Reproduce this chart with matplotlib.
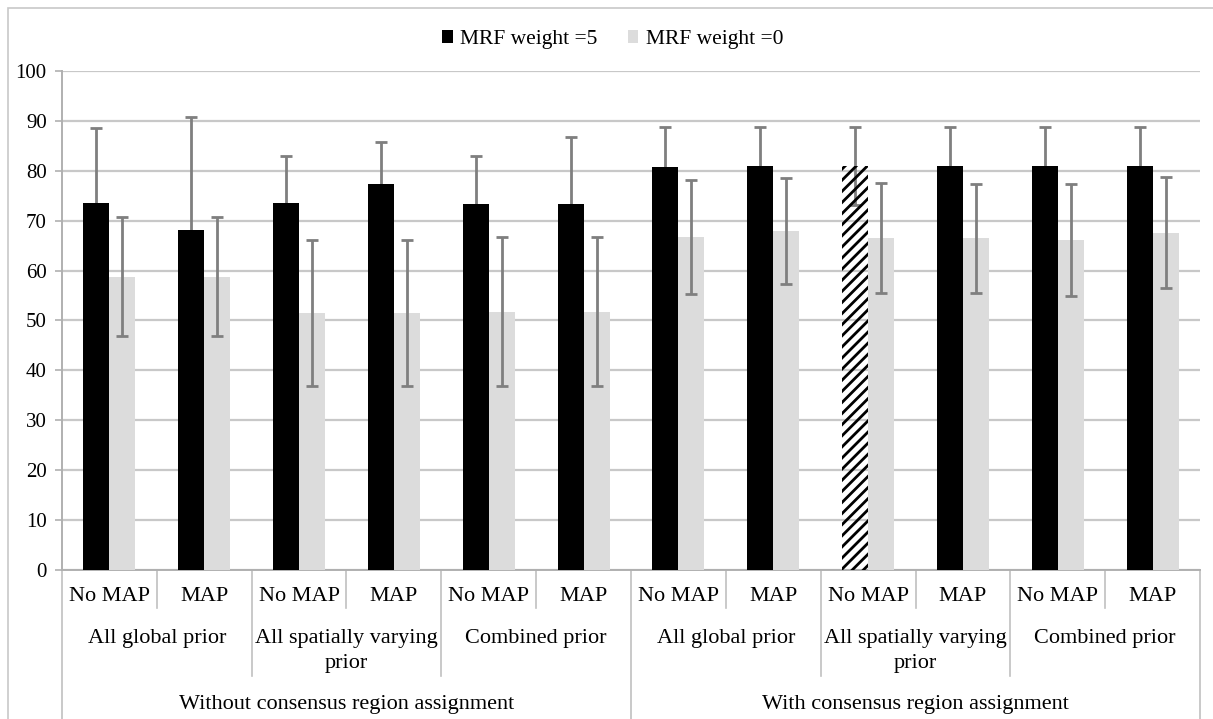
import matplotlib
matplotlib.use('Agg')
import matplotlib.pyplot as plt
from matplotlib.patches import Patch, Rectangle
from matplotlib.transforms import blended_transform_factory
import numpy as np

plt.rcParams['font.family'] = ['Liberation Serif', 'DejaVu Serif']
plt.rcParams['hatch.linewidth'] = 2.0

map_labels = ['No MAP', 'MAP'] * 6
prior_labels = ['All global prior', 'All spatially varying\nprior', 'Combined prior'] * 2
consensus_labels = ['Without consensus region assignment', 'With consensus region assignment']

mrf5 = [73.6, 68.1, 73.6, 77.4, 73.3, 73.3, 80.7, 81.0, 81.0, 81.0, 81.0, 81.0]
mrf5_err = [14.9, 22.6, 9.4, 8.4, 9.7, 13.5, 8.1, 7.8, 7.8, 7.8, 7.8, 7.8]
mrf0 = [58.8, 58.8, 51.5, 51.5, 51.8, 51.8, 66.7, 68.0, 66.5, 66.5, 66.1, 67.6]
mrf0_err = [11.9, 11.9, 14.7, 14.7, 14.9, 14.9, 11.4, 10.6, 11.0, 10.9, 11.2, 11.1]
hatched = 8  # index of the highlighted bar

fig = plt.figure(figsize=(12.13, 7.19), dpi=100)
ax = fig.add_axes([0.0511, 0.2072, 0.9382, 0.6941])

x = np.arange(len(mrf5))
w = 0.274
err_kw = dict(fmt='none', ecolor='#7f7f7f', elinewidth=2, capsize=4, capthick=2)

# black series: error bars sit behind the bars
ax.errorbar(x - w / 2, mrf5, yerr=mrf5_err, zorder=2.5, **err_kw)
bars5 = ax.bar(x - w / 2, mrf5, w, color='black', zorder=3)
bars5[hatched].set_facecolor('none')
bars5[hatched].set_edgecolor('black')
bars5[hatched].set_linewidth(0)
bars5[hatched].set_hatch('///')
ax.bar(x + w / 2, mrf0, w, color='#dcdcdc', zorder=3)
ax.errorbar(x + w / 2, mrf0, yerr=mrf0_err, zorder=4, **err_kw)

ax.set_xlim(-0.5, len(x) - 0.5)
ax.set_ylim(0, 100)
ax.set_yticks(range(0, 101, 10))
ax.tick_params(axis='y', labelsize=15, length=5, color='#b0b0b0', width=1.2, pad=6)
ax.set_xticks([])
ax.grid(axis='y', color='#c8c8c8', linewidth=1.6, zorder=0)
ax.set_axisbelow(True)
for s in ['top', 'right']:
    ax.spines[s].set_visible(False)
ax.spines['left'].set_color('#b0b0b0')
ax.spines['left'].set_linewidth(1.4)
ax.spines['bottom'].set_color('#b0b0b0')
ax.spines['bottom'].set_linewidth(1.4)

# multi-level category axis
tr = blended_transform_factory(ax.transData, ax.transAxes)
for i, lab in enumerate(map_labels):
    ax.text(i, -0.054, lab, transform=tr, ha='center', va='center', fontsize=16)
for j, lab in enumerate(prior_labels):
    ax.text(2 * j + 0.5, -0.119, lab, transform=tr, ha='center', va='top', fontsize=16,
            linespacing=1.42)
for k, lab in enumerate(consensus_labels):
    ax.text(6 * k + 2.5, -0.27, lab, transform=tr, ha='center', va='center', fontsize=16)

line_kw = dict(transform=tr, color='#c0c0c0', linewidth=1.2, clip_on=False)
for b in np.arange(-0.5, len(x), 1.0):
    if b in (-0.5, 5.5, 11.5):
        y_end = -0.31
    elif b in (1.5, 3.5, 7.5, 9.5):
        y_end = -0.212
    else:
        y_end = -0.076
    ax.plot([b, b], [0, y_end], **line_kw)

handles = [Patch(facecolor='black'), Patch(facecolor='#dcdcdc')]
fig.legend(handles, ['MRF weight =5', 'MRF weight =0'], loc='center', bbox_to_anchor=(0.505, 0.945),
           ncol=2, frameon=False, fontsize=15.5, handlelength=0.5, handleheight=0.5,
           handletextpad=0.35, columnspacing=1.4)

# outer chart border
fig.patches.append(Rectangle((8 / 1213, -0.1), 1.2, 1 - 8 / 719 + 0.1, transform=fig.transFigure,
                             fill=False, edgecolor='#c8c8c8', linewidth=1.2))

fig.savefig('out.png', dpi=100)
